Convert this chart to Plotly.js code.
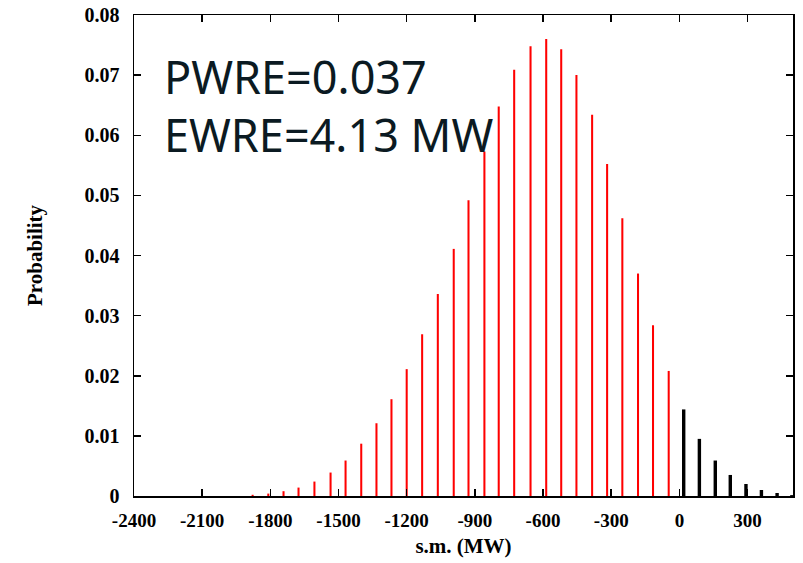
<!DOCTYPE html>
<html>
<head>
<meta charset="utf-8">
<script src="https://cdn.plot.ly/plotly-3.0.1.min.js"></script>
<style>html,body{margin:0;padding:0;background:#fff;}#chart{width:803px;height:563px;}</style>
</head>
<body>
<div id="chart"></div>
<script>
// Surplus margin (MW) positions and probabilities
const deficitX = [-1878, -1809, -1742, -1676, -1606, -1535, -1469, -1400, -1333, -1267,
                  -1200, -1132, -1063, -993, -928, -858, -795, -727, -655, -586,
                  -520, -453, -384, -318, -251, -182, -116, -47];
const deficitP = [0.0002, 0.0004, 0.0008, 0.0014, 0.0024, 0.0039, 0.0059, 0.0087, 0.0121, 0.0161,
                  0.0211, 0.0269, 0.0336, 0.0411, 0.0492, 0.0573, 0.0648, 0.0709, 0.0748, 0.0760,
                  0.0743, 0.0700, 0.0634, 0.0552, 0.0462, 0.0370, 0.0284, 0.0208];
const surplusX = [19, 88, 158, 224, 293, 361, 430, 495];
const surplusP = [0.0144, 0.0095, 0.0059, 0.0035, 0.0020, 0.0010, 0.0005, 0.00015];
const xTicks = [-2400, -2100, -1800, -1500, -1200, -900, -600, -300, 0, 300];
const yTicks = [0, 0.01, 0.02, 0.03, 0.04, 0.05, 0.06, 0.07, 0.08];
const yTickText = ['0', '0.01', '0.02', '0.03', '0.04', '0.05', '0.06', '0.07', '0.08'];
const textLines = ['PWRE=0.037', 'EWRE=4.13 MW'];

const traces = [
  {type: 'bar', x: deficitX, y: deficitP, width: 9, marker: {color: '#ff0000', line: {width: 0}}, hoverinfo: 'x+y'},
  {type: 'bar', x: surplusX, y: surplusP, width: 15, marker: {color: '#000000', line: {width: 0}}, hoverinfo: 'x+y'}
];

const serif = 'Liberation Serif, Times New Roman, serif';
const layout = {
  width: 803, height: 563,
  margin: {l: 134, r: 10, t: 15, b: 67, pad: 0},
  paper_bgcolor: '#ffffff', plot_bgcolor: '#ffffff',
  showlegend: false,
  barmode: 'overlay',
  xaxis: {
    range: [-2400, 500], tickmode: 'array', tickvals: xTicks, ticktext: xTicks.map(String),
    ticks: 'inside', ticklen: 7, tickwidth: 1.5, tickcolor: '#000',
    showline: true, linecolor: '#000', linewidth: 1.5, mirror: 'ticks',
    showgrid: false, zeroline: false,
    tickfont: {family: serif, size: 19, color: '#000', weight: 'bold'},
    ticklabelstandoff: 7,
    title: {text: '<b>s.m. (MW)</b>', font: {family: serif, size: 21, color: '#000'}, standoff: 8}
  },
  yaxis: {
    range: [0, 0.08], tickmode: 'array', tickvals: yTicks, ticktext: yTickText,
    ticks: 'inside', ticklen: 7, tickwidth: 1.5, tickcolor: '#000',
    showline: true, linecolor: '#000', linewidth: 1.5, mirror: 'ticks',
    showgrid: false, zeroline: false,
    tickfont: {family: serif, size: 20, color: '#000', weight: 'bold'},
    ticklabelstandoff: 9,
    title: {text: '<b>Probability</b>', font: {family: serif, size: 21, color: '#000'}, standoff: 36}
  },
  annotations: [
    {xref: 'paper', yref: 'paper', x: 0.043, y: 0.872, xanchor: 'left', yanchor: 'middle',
     text: textLines[0], showarrow: false, font: {family: 'Noto Sans, sans-serif', size: 45, color: '#0b1a22'}},
    {xref: 'paper', yref: 'paper', x: 0.043, y: 0.752, xanchor: 'left', yanchor: 'middle',
     text: textLines[1], showarrow: false, font: {family: 'Noto Sans, sans-serif', size: 45, color: '#0b1a22'}}
  ]
};

Plotly.newPlot('chart', traces, layout, {displayModeBar: false, staticPlot: true});
</script>
</body>
</html>
